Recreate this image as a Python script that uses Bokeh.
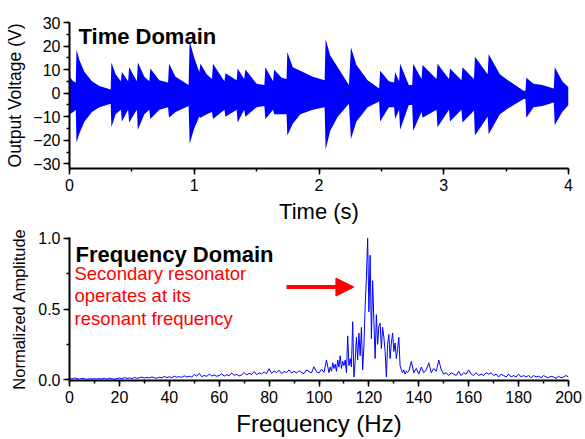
import numpy as np
from bokeh.plotting import figure
from bokeh.layouts import column
from bokeh.models import Label, Arrow, NormalHead, SingleIntervalTicker, NumeralTickFormatter, Range1d
from bokeh.embed import file_html
from bokeh.resources import INLINE

# ---------------- Time domain: envelope of the output voltage ----------------
t_env = [0.000, 0.030, 0.050, 0.056, 0.080, 0.120, 0.180, 0.240, 0.330, 0.336,
         0.370, 0.412, 0.420, 0.470, 0.478, 0.540, 0.548, 0.600, 0.640, 0.648,
         0.720, 0.790, 0.798, 0.850, 0.955, 0.963, 1.000, 1.040, 1.050, 1.100,
         1.142, 1.150, 1.242, 1.250, 1.340, 1.348, 1.400, 1.410, 1.500, 1.562,
         1.570, 1.632, 1.640, 1.700, 1.740, 1.746, 1.790, 1.850, 1.950, 2.045,
         2.053, 2.090, 2.150, 2.240, 2.256, 2.300, 2.390, 2.482, 2.490, 2.560,
         2.602, 2.610, 2.642, 2.650, 2.720, 2.747, 2.755, 2.822, 2.830, 2.942,
         2.950, 3.042, 3.050, 3.142, 3.150, 3.242, 3.250, 3.352, 3.360, 3.450,
         3.500, 3.640, 3.655, 3.662, 3.720, 3.790, 3.882, 3.890, 3.950, 4.000]
v_upper = [7.0, 5.0, 4.5, 18.5, 14.0, 9.0, 5.0, 3.0, 1.5, 13.0,
           8.0, 5.0, 9.0, 5.0, 11.0, 5.0, 13.0, 7.0, 5.0, 10.5,
           5.5, 4.5, 12.5, 7.0, 3.5, 22.0, 15.0, 9.0, 12.5, 8.0,
           6.0, 12.5, 5.0, 8.5, 5.5, 10.5, 6.0, 10.0, 4.0, 3.5,
           11.0, 5.0, 10.0, 6.5, 6.0, 17.5, 11.0, 9.5, 7.0, 5.5,
           23.0, 16.0, 11.0, 3.5, 19.5, 12.0, 5.5, 2.0, 9.5, 5.0,
           4.5, 9.0, 5.0, 12.5, 3.5, 3.5, 12.5, 6.0, 12.0, 6.0,
           12.5, 6.0, 10.5, 5.5, 11.0, 6.0, 15.5, 8.0, 16.5, 8.0,
           6.0, 1.0, 1.0, 6.5, 4.0, 3.5, 2.0, 11.0, 5.0, 2.5]
v_lower = [-9.0, -8.0, -7.0, -21.0, -17.0, -12.0, -8.0, -6.0, -4.5, -14.5,
           -9.0, -7.0, -12.0, -7.0, -12.5, -7.0, -15.5, -9.0, -7.0, -11.0,
           -7.0, -6.0, -10.5, -8.0, -5.5, -21.5, -15.0, -10.0, -10.5, -9.0,
           -8.0, -11.0, -7.0, -10.0, -7.0, -12.5, -7.0, -10.0, -6.0, -5.5,
           -11.0, -7.0, -9.0, -9.0, -9.0, -18.0, -13.0, -9.0, -7.0, -6.0,
           -24.0, -16.0, -10.0, -4.5, -19.5, -12.0, -6.0, -3.5, -12.0, -6.0,
           -6.0, -11.0, -7.0, -15.5, -5.0, -5.0, -16.0, -8.0, -10.5, -7.0,
           -14.5, -7.0, -12.0, -7.0, -12.5, -7.5, -18.0, -10.0, -17.5, -9.0,
           -7.0, -2.5, -2.5, -10.5, -6.0, -5.5, -4.0, -13.5, -8.0, -5.0]

# ---------------- Frequency domain: normalized spectrum ----------------
freq_low = np.arange(0, 104, 1.0)        # 0 ... 103 Hz
amp_low = [0.010, 0.006, 0.012, 0.008, 0.005, 0.009, 0.007, 0.004, 0.008, 0.006,
           0.007, 0.005, 0.009, 0.006, 0.010, 0.004, 0.011, 0.007, 0.005, 0.009,
           0.012, 0.008, 0.015, 0.010, 0.013, 0.009, 0.016, 0.011, 0.014, 0.019,
           0.012, 0.017, 0.013, 0.020, 0.015, 0.011, 0.018, 0.014, 0.024, 0.016,
           0.021, 0.015, 0.026, 0.018, 0.022, 0.017, 0.028, 0.020, 0.025, 0.019,
           0.038, 0.026, 0.046, 0.022, 0.031, 0.024, 0.040, 0.027, 0.034, 0.025,
           0.030, 0.042, 0.026, 0.036, 0.029, 0.048, 0.031, 0.038, 0.027, 0.035,
           0.052, 0.034, 0.045, 0.038, 0.058, 0.036, 0.049, 0.041, 0.055, 0.043,
           0.078, 0.046, 0.062, 0.050, 0.068, 0.045, 0.058, 0.052, 0.070, 0.048,
           0.060, 0.047, 0.065, 0.052, 0.044, 0.070, 0.058, 0.049, 0.092, 0.055,
           0.048, 0.075, 0.052, 0.140]
freq_peak = np.arange(104, 136, 0.5)     # 104.0 ... 135.5 Hz
amp_peak = [0.05, 0.09, 0.06, 0.12, 0.08, 0.11, 0.06, 0.14, 0.09, 0.17,
            0.08, 0.13, 0.10, 0.14, 0.05, 0.31, 0.10, 0.15, 0.09, 0.41,
            0.02, 0.13, 0.30, 0.14, 0.33, 0.17, 0.37, 0.07, 0.24, 0.52,
            0.72, 1.00, 0.48, 0.88, 0.29, 0.70, 0.42, 0.15, 0.46, 0.25,
            0.38, 0.40, 0.22, 0.37, 0.30, 0.20, 0.02, 0.25, 0.32, 0.15,
            0.26, 0.33, 0.20, 0.26, 0.15, 0.22, 0.30, 0.10, 0.07, 0.05,
            0.07, 0.04, 0.06, 0.05]
freq_high = np.arange(136, 201, 1.0)     # 136 ... 200 Hz
amp_high = [0.06, 0.13, 0.05, 0.08, 0.04, 0.09, 0.05, 0.07, 0.12, 0.05,
            0.08, 0.06, 0.14, 0.07, 0.04, 0.05, 0.03, 0.05, 0.04, 0.03,
            0.06, 0.03, 0.05, 0.04, 0.07, 0.04, 0.03, 0.05, 0.03, 0.04,
            0.03, 0.05, 0.04, 0.05, 0.03, 0.04, 0.02, 0.04, 0.03, 0.02,
            0.04, 0.02, 0.03, 0.02, 0.04, 0.02, 0.03, 0.02, 0.03, 0.015,
            0.03, 0.02, 0.025, 0.015, 0.03, 0.02, 0.015, 0.025, 0.02, 0.01,
            0.025, 0.015, 0.02, 0.03, 0.02]

freq = np.concatenate([freq_low, freq_peak, freq_high])
amp = np.concatenate([amp_low, amp_peak, amp_high])

FONT = "Liberation Sans"
BLUE = "#0000ff"
RED = "#ff0000"


def style_axes(p, xint, yint, tick_size="16px"):
    p.grid.visible = False
    p.outline_line_color = None
    p.background_fill_color = "white"
    p.border_fill_color = "white"
    p.xaxis.ticker = SingleIntervalTicker(interval=xint, num_minor_ticks=2)
    p.yaxis.ticker = SingleIntervalTicker(interval=yint, num_minor_ticks=2)
    for ax in (p.xaxis[0], p.yaxis[0]):
        ax.axis_line_width = 2
        ax.axis_line_color = "black"
        ax.major_tick_line_width = 1.5
        ax.minor_tick_line_width = 1.5
        ax.major_tick_line_color = "black"
        ax.minor_tick_line_color = "black"
        ax.major_tick_out = 6
        ax.major_tick_in = 0
        ax.minor_tick_out = 3
        ax.minor_tick_in = 0
        ax.major_label_text_font = FONT
        ax.major_label_text_font_size = tick_size
        ax.major_label_text_color = "black"
        ax.axis_label_text_font = FONT
        ax.axis_label_text_font_style = "normal"
        ax.axis_label_text_color = "black"
    p.xaxis.major_label_standoff = 4
    p.yaxis.major_label_standoff = 3


# ---------------- Top panel ----------------
p1 = figure(width=585, height=226, output_backend="svg", toolbar_location=None,
            x_range=Range1d(0, 4), y_range=Range1d(-32, 30),
            min_border_left=69, min_border_right=17, min_border_top=22, min_border_bottom=56)
style_axes(p1, 1, 10)
p1.xaxis.axis_label = "Time (s)"
p1.xaxis.axis_label_text_font_size = "22px"
p1.xaxis.axis_label_standoff = 5
p1.yaxis.axis_label = "Output Voltage (V)"
p1.yaxis.axis_label_text_font_size = "17.5px"
p1.yaxis.axis_label_standoff = 5

p1.varea(x=t_env, y1=v_lower, y2=v_upper, fill_color=BLUE, fill_alpha=1.0)

p1.add_layout(Label(x=0.072, y=23.9, text="Time Domain", text_font=FONT,
                    text_font_style="bold", text_font_size="22px", text_color="black",
                    text_baseline="alphabetic"))

# ---------------- Bottom panel ----------------
p2 = figure(width=585, height=213, output_backend="svg", toolbar_location=None,
            x_range=Range1d(0, 200), y_range=Range1d(-0.005, 1.005),
            min_border_left=69, min_border_right=17, min_border_top=11, min_border_bottom=56)
style_axes(p2, 20, 0.5)
p2.yaxis.formatter = NumeralTickFormatter(format="0.0")
p2.xaxis.axis_label = "Frequency (Hz)"
p2.xaxis.axis_label_text_font_size = "24px"
p2.xaxis.axis_label_standoff = 4
p2.yaxis.axis_label = "Normalized Amplitude"
p2.yaxis.axis_label_text_font_size = "16.5px"
p2.yaxis.axis_label_standoff = 7

p2.line(freq, amp, line_color=BLUE, line_width=1.0)

p2.add_layout(Label(x=2.4, y=0.887, text="Frequency Domain", text_font=FONT,
                    text_font_style="bold", text_font_size="22px", text_color="black",
                    text_baseline="alphabetic"))
red_lines = ["Secondary resonator", "operates at its", "resonant frequency"]
red_y = [0.749, 0.592, 0.431]
for txt, yy in zip(red_lines, red_y):
    p2.add_layout(Label(x=2.0, y=yy, text=txt, text_font=FONT, text_font_size="18.5px",
                        text_color=RED, text_baseline="alphabetic"))

p2.add_layout(Arrow(end=NormalHead(size=18, fill_color=RED, line_color=RED),
                    x_start=87, y_start=0.655, x_end=114, y_end=0.655,
                    line_color=RED, line_width=4))

layout = column(p1, p2, spacing=0)
open("out.html", "w").write(file_html(layout, INLINE))
